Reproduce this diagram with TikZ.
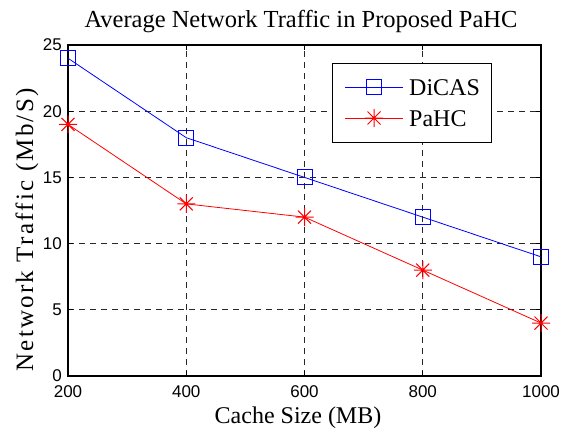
\documentclass[tikz,border=0pt]{standalone}
\usepackage{fontspec}
\setmainfont{Liberation Serif}
\setsansfont{Liberation Sans}
\newfontfamily\ylabfont[LetterSpace=9]{Liberation Serif}
\usetikzlibrary{positioning}
\definecolor{dicasblue}{RGB}{0,0,255}
\definecolor{pahcred}{RGB}{255,0,0}

\tikzset{
  gridline/.style={black!85,line width=0.8pt,dash pattern=on 6pt off 5pt},
  ticklabel/.style={font=\sffamily\fontsize{17}{17}\selectfont,inner sep=0pt},
  bigtext/.style={font=\fontsize{24}{24}\selectfont,inner sep=0pt},
  sqmark/.style={draw=dicasblue,rectangle,minimum size=15pt,inner sep=0pt,line width=1pt},
  pics/astmark/.style={code={
    \draw[pahcred,line width=1pt] (-9pt,0)--(9pt,0) (0,-9pt)--(0,9pt)
      (-6.5pt,-6.5pt)--(6.5pt,6.5pt) (-6.5pt,6.5pt)--(6.5pt,-6.5pt);}}
}

\begin{document}
\begin{tikzpicture}[x=1pt,y=1pt]
\useasboundingbox (0,0) rectangle (561,432);
% axes in data units: 200..1000 MB, 0..25 Mb/S
\begin{scope}[shift={(-50.25,56)},x=0.59125pt,y=13.24pt]
  \foreach \xv in {400,600,800}
    \draw[gridline] (\xv,0) -- (\xv,25);
  \foreach \yv in {5,10,15,20}
    \draw[gridline] (200,\yv) -- (1000,\yv);
  \foreach \xv in {200,400,600,800,1000}{
    \draw[line width=0.8pt] (\xv,0) -- ++(0,5pt) (\xv,25) -- ++(0,-5pt);
    \node[ticklabel,anchor=north] (xl\xv) at ([yshift=-9.5pt]\xv,0) {\xv};
  }
  \foreach \yv in {0,5,10,15,20,25}{
    \draw[line width=0.8pt] (200,\yv) -- ++(5pt,0) (1000,\yv) -- ++(-5pt,0);
    \node[ticklabel,anchor=east] (yl\yv) at ([xshift=-6pt]200,\yv) {\yv};
  }
  \draw[line width=1.1pt] (200,0) rectangle (1000,25);
  % DiCAS
  \coordinate (d1) at (200,24);
  \coordinate (d2) at (400,18);
  \coordinate (d3) at (600,15);
  \coordinate (d4) at (800,12);
  \coordinate (d5) at (1000,9);
  \draw[dicasblue,line width=0.8pt] (d1) -- (d2) -- (d3) -- (d4) -- (d5);
  \foreach \i in {1,...,5}
    \node[sqmark] (dm\i) at (d\i) {};
  % PaHC
  \coordinate (p1) at (200,19);
  \coordinate (p2) at (400,13);
  \coordinate (p3) at (600,12);
  \coordinate (p4) at (800,8);
  \coordinate (p5) at (1000,4);
  \draw[pahcred,line width=0.8pt] (p1) -- (p2) -- (p3) -- (p4) -- (p5);
  \foreach \i in {1,...,5}
    \pic at (p\i) {astmark};
\end{scope}
% legend
\draw[fill=white,line width=0.9pt] (332,290) rectangle (491,369);
\coordinate (la) at (345,345);
\coordinate (lb) at (403,345);
\coordinate (lc) at (345,314);
\coordinate (ld) at (403,314);
\draw[dicasblue,line width=0.8pt] (la) -- (lb);
\node[sqmark] (lgd) at (374,345) {};
\draw[pahcred,line width=0.8pt] (lc) -- (ld);
\pic at (374,314) {astmark};
\node[bigtext,anchor=base west] (lgdtext) at (409,337) {DiCAS};
\node[bigtext,anchor=base west] (lgptext) at (409,306) {PaHC};
% labels
\node[bigtext,font=\fontsize{24.5}{24.5}\selectfont,anchor=base] (title) at (301,404) {Average Network Traffic in Proposed PaHC};
\node[bigtext,anchor=base] (xlab) at (298,9) {Cache Size (MB)};
\node[bigtext,font=\fontsize{25}{25}\selectfont,anchor=base,rotate=90] (ylab) at (33,202) {\ylabfont Network Traffic (Mb/S)};
\end{tikzpicture}
\end{document}
